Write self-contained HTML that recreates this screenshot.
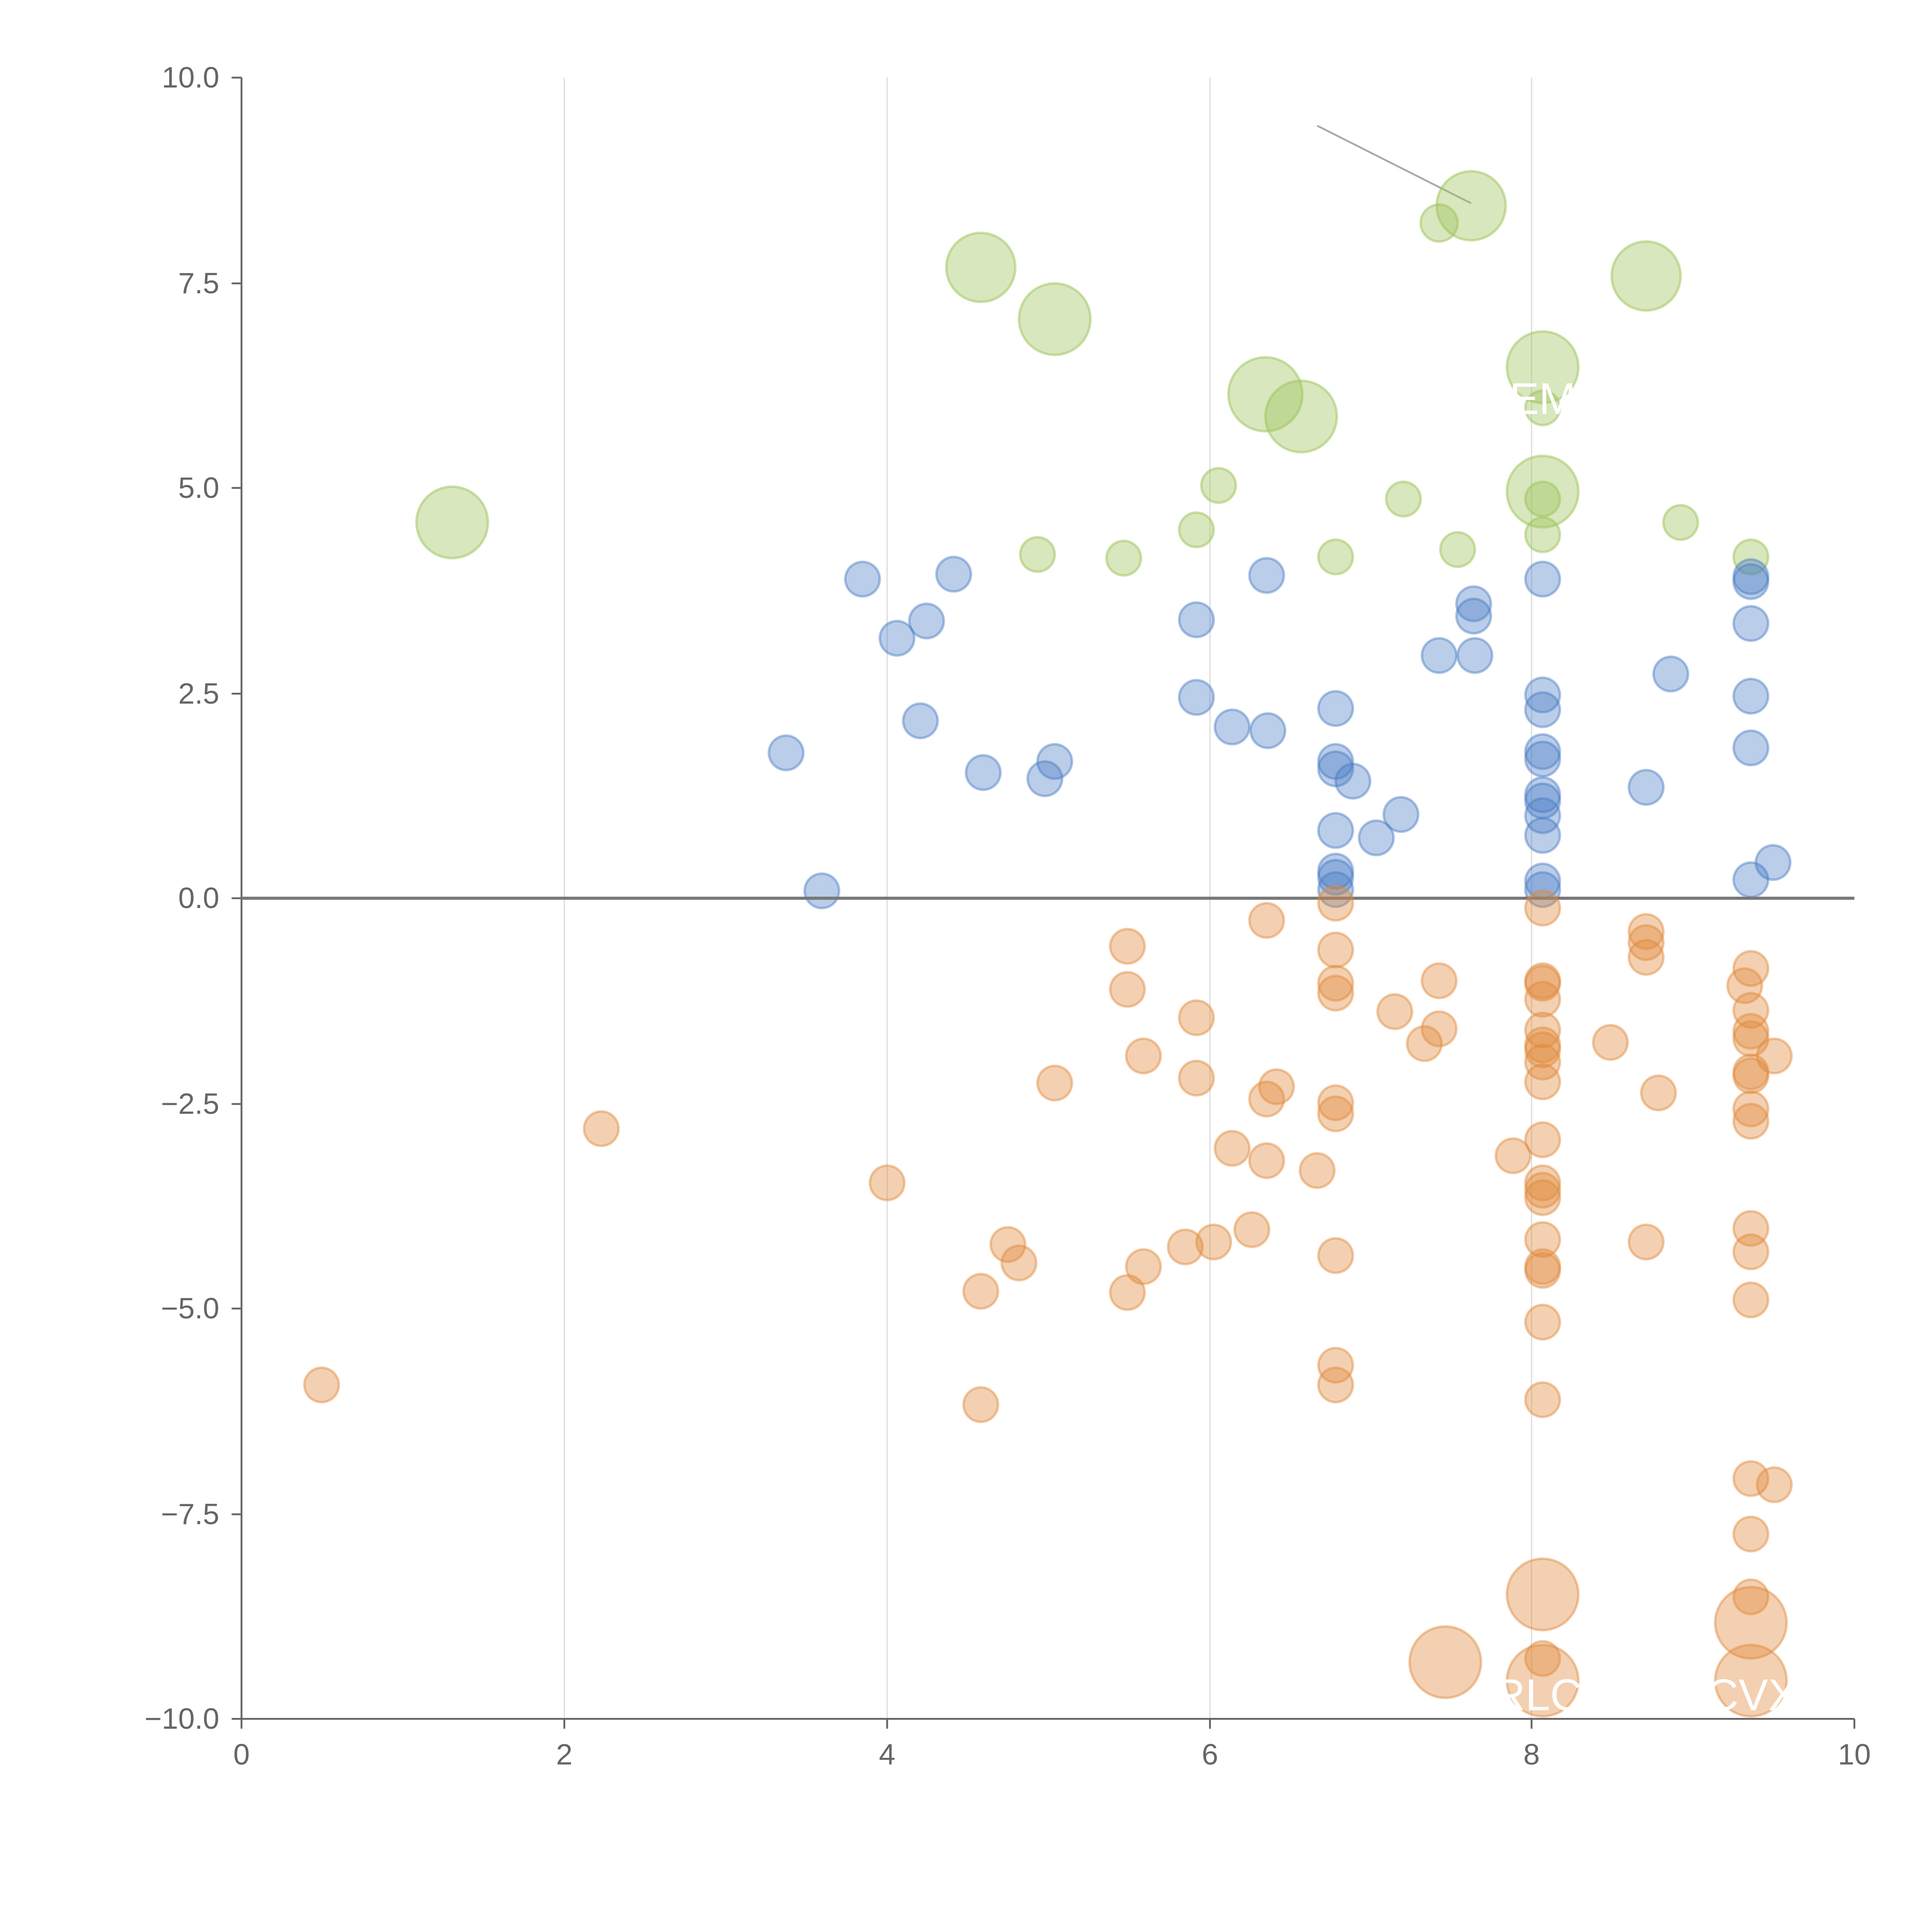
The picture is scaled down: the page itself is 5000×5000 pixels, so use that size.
<!DOCTYPE html>
<html><head><style>html,body{margin:0;padding:0;background:#fff}svg{display:block}</style></head><body>
<svg width="5000" height="5000" viewBox="0 0 1568 1568" xmlns="http://www.w3.org/2000/svg" font-family="Liberation Sans, sans-serif">
<rect width="1568" height="1568" fill="#fff"/>
<g stroke="#ddd" stroke-width="1">
<line x1="458" y1="63" x2="458" y2="1395"/><line x1="720" y1="63" x2="720" y2="1395"/><line x1="982" y1="63" x2="982" y2="1395"/><line x1="1243" y1="63" x2="1243" y2="1395"/>
</g>
<g stroke="#666" stroke-width="1.5" fill="none">
<line x1="196" y1="63" x2="196" y2="1395"/><line x1="196" y1="1395" x2="1505" y2="1395"/>
<line x1="188" y1="63" x2="196" y2="63"/><line x1="188" y1="230" x2="196" y2="230"/><line x1="188" y1="396" x2="196" y2="396"/><line x1="188" y1="563" x2="196" y2="563"/><line x1="188" y1="729" x2="196" y2="729"/><line x1="188" y1="896" x2="196" y2="896"/><line x1="188" y1="1062" x2="196" y2="1062"/><line x1="188" y1="1229" x2="196" y2="1229"/><line x1="188" y1="1395" x2="196" y2="1395"/>
<line x1="196" y1="1395" x2="196" y2="1403"/><line x1="458" y1="1395" x2="458" y2="1403"/><line x1="720" y1="1395" x2="720" y2="1403"/><line x1="982" y1="1395" x2="982" y2="1403"/><line x1="1243" y1="1395" x2="1243" y2="1403"/><line x1="1505" y1="1395" x2="1505" y2="1403"/>
</g>
<g fill="#666" font-size="24" text-anchor="end">
<text x="178" y="71">10.0</text><text x="178" y="238">7.5</text><text x="178" y="404">5.0</text><text x="178" y="571">2.5</text><text x="178" y="737">0.0</text><text x="178" y="904">−2.5</text><text x="178" y="1070">−5.0</text><text x="178" y="1237">−7.5</text><text x="178" y="1403">−10.0</text>
</g>
<g fill="#666" font-size="24" text-anchor="middle">
<text x="196" y="1432">0</text><text x="458" y="1432">2</text><text x="720" y="1432">4</text><text x="982" y="1432">6</text><text x="1243" y="1432">8</text><text x="1505" y="1432">10</text>
</g>
<line x1="1069" y1="102" x2="1194" y2="165" stroke="#aaa" stroke-width="1.5"/>
<g fill="#9dc35a" fill-opacity="0.4" stroke="#9dc35a" stroke-opacity="0.5" stroke-width="2">
<circle cx="367" cy="424" r="29"/><circle cx="796" cy="217" r="28"/><circle cx="856" cy="259" r="29"/><circle cx="1194" cy="167" r="28"/><circle cx="1336" cy="224" r="28"/><circle cx="1252" cy="298" r="29"/><circle cx="1027" cy="320" r="30"/><circle cx="1056" cy="338" r="29"/><circle cx="1252" cy="399" r="29"/>
<circle cx="1168" cy="181" r="15"/><circle cx="1252" cy="331" r="14"/><circle cx="989" cy="394" r="14"/><circle cx="971" cy="430" r="14"/><circle cx="842" cy="450" r="14"/><circle cx="912" cy="453" r="14"/><circle cx="1084" cy="452" r="14"/><circle cx="1139" cy="405" r="14"/><circle cx="1183" cy="446" r="14"/><circle cx="1252" cy="405" r="14"/><circle cx="1252" cy="434" r="14"/><circle cx="1364" cy="424" r="14"/><circle cx="1421" cy="452" r="14"/>
</g>
<g fill="#4a7cc4" fill-opacity="0.38" stroke="#4a7cc4" stroke-opacity="0.45" stroke-width="2">
<circle cx="700" cy="470" r="14"/><circle cx="728" cy="518" r="14"/><circle cx="752" cy="504" r="14"/><circle cx="774" cy="466" r="14"/><circle cx="638" cy="611" r="14"/><circle cx="747" cy="585" r="14"/><circle cx="798" cy="627" r="14"/><circle cx="856" cy="618" r="14"/><circle cx="848" cy="632" r="14"/><circle cx="667" cy="723" r="14"/><circle cx="971" cy="503" r="14"/><circle cx="971" cy="566" r="14"/><circle cx="1000" cy="590" r="14"/><circle cx="1029" cy="593" r="14"/><circle cx="1028" cy="467" r="14"/><circle cx="1084" cy="575" r="14"/><circle cx="1084" cy="618" r="14"/><circle cx="1084" cy="624" r="14"/><circle cx="1098" cy="634" r="14"/><circle cx="1084" cy="674" r="14"/><circle cx="1117" cy="680" r="14"/><circle cx="1137" cy="661" r="14"/><circle cx="1084" cy="707" r="14"/><circle cx="1084" cy="712" r="14"/><circle cx="1084" cy="722" r="14"/><circle cx="1168" cy="532" r="14"/><circle cx="1196" cy="490" r="14"/><circle cx="1196" cy="500" r="14"/><circle cx="1197" cy="532" r="14"/><circle cx="1252" cy="470" r="14"/><circle cx="1252" cy="564" r="14"/><circle cx="1252" cy="576" r="14"/><circle cx="1252" cy="610" r="14"/><circle cx="1252" cy="616" r="14"/><circle cx="1252" cy="645" r="14"/><circle cx="1252" cy="650" r="14"/><circle cx="1252" cy="662" r="14"/><circle cx="1252" cy="678" r="14"/><circle cx="1252" cy="715" r="14"/><circle cx="1252" cy="722" r="14"/><circle cx="1356" cy="547" r="14"/><circle cx="1336" cy="639" r="14"/><circle cx="1421" cy="468" r="14"/><circle cx="1421" cy="472" r="14"/><circle cx="1421" cy="506" r="14"/><circle cx="1421" cy="565" r="14"/><circle cx="1421" cy="607" r="14"/><circle cx="1421" cy="714" r="14"/><circle cx="1439" cy="700" r="14"/>
</g>
<line x1="196" y1="729" x2="1505" y2="729" stroke="#777" stroke-width="2.5"/>
<g fill="#e08a3c" fill-opacity="0.4" stroke="#e08a3c" stroke-opacity="0.45" stroke-width="2">
<circle cx="261" cy="1124" r="14"/><circle cx="488" cy="916" r="14"/><circle cx="720" cy="960" r="14"/><circle cx="796" cy="1048" r="14"/><circle cx="796" cy="1140" r="14"/><circle cx="818" cy="1010" r="14"/><circle cx="827" cy="1025" r="14"/><circle cx="856" cy="879" r="14"/><circle cx="915" cy="768" r="14"/><circle cx="915" cy="803" r="14"/><circle cx="928" cy="857" r="14"/><circle cx="928" cy="1028" r="14"/><circle cx="915" cy="1049" r="14"/><circle cx="962" cy="1012" r="14"/><circle cx="985" cy="1008" r="14"/><circle cx="971" cy="826" r="14"/><circle cx="971" cy="875" r="14"/><circle cx="1000" cy="932" r="14"/><circle cx="1016" cy="998" r="14"/><circle cx="1028" cy="747" r="14"/><circle cx="1028" cy="892" r="14"/><circle cx="1036" cy="882" r="14"/><circle cx="1028" cy="942" r="14"/><circle cx="1069" cy="950" r="14"/><circle cx="1084" cy="733" r="14"/><circle cx="1084" cy="771" r="14"/><circle cx="1084" cy="798" r="14"/><circle cx="1084" cy="806" r="14"/><circle cx="1084" cy="895" r="14"/><circle cx="1084" cy="904" r="14"/><circle cx="1084" cy="1019" r="14"/><circle cx="1084" cy="1108" r="14"/><circle cx="1084" cy="1124" r="14"/><circle cx="1132" cy="821" r="14"/><circle cx="1168" cy="796" r="14"/><circle cx="1168" cy="835" r="14"/><circle cx="1156" cy="847" r="14"/><circle cx="1228" cy="938" r="14"/><circle cx="1252" cy="737" r="14"/><circle cx="1252" cy="796" r="14"/><circle cx="1252" cy="798" r="14"/><circle cx="1252" cy="811" r="14"/><circle cx="1252" cy="836" r="14"/><circle cx="1252" cy="848" r="14"/><circle cx="1252" cy="852" r="14"/><circle cx="1252" cy="862" r="14"/><circle cx="1252" cy="878" r="14"/><circle cx="1252" cy="925" r="14"/><circle cx="1252" cy="960" r="14"/><circle cx="1252" cy="966" r="14"/><circle cx="1252" cy="972" r="14"/><circle cx="1252" cy="1006" r="14"/><circle cx="1252" cy="1028" r="14"/><circle cx="1252" cy="1031" r="14"/><circle cx="1252" cy="1073" r="14"/><circle cx="1252" cy="1136" r="14"/><circle cx="1252" cy="1346" r="14"/><circle cx="1307" cy="846" r="14"/><circle cx="1336" cy="756" r="14"/><circle cx="1336" cy="765" r="14"/><circle cx="1336" cy="777" r="14"/><circle cx="1346" cy="887" r="14"/><circle cx="1336" cy="1008" r="14"/><circle cx="1421" cy="786" r="14"/><circle cx="1416" cy="800" r="14"/><circle cx="1421" cy="820" r="14"/><circle cx="1421" cy="837" r="14"/><circle cx="1421" cy="843" r="14"/><circle cx="1421" cy="870" r="14"/><circle cx="1421" cy="873" r="14"/><circle cx="1421" cy="900" r="14"/><circle cx="1421" cy="910" r="14"/><circle cx="1440" cy="857" r="14"/><circle cx="1421" cy="997" r="14"/><circle cx="1421" cy="1016" r="14"/><circle cx="1421" cy="1055" r="14"/><circle cx="1421" cy="1200" r="14"/><circle cx="1440" cy="1205" r="14"/><circle cx="1421" cy="1245" r="14"/><circle cx="1421" cy="1296" r="14"/>
<circle cx="1252" cy="1294" r="29"/><circle cx="1421" cy="1317" r="29"/><circle cx="1173" cy="1349" r="29"/><circle cx="1252" cy="1364" r="29"/><circle cx="1421" cy="1364" r="29"/>
</g>
<g fill="#fff" font-size="36">
<text x="1225" y="336">EM</text><text x="1212" y="1388">RLC</text><text x="1385" y="1388">CVX</text>
</g>
</svg>
</body></html>
